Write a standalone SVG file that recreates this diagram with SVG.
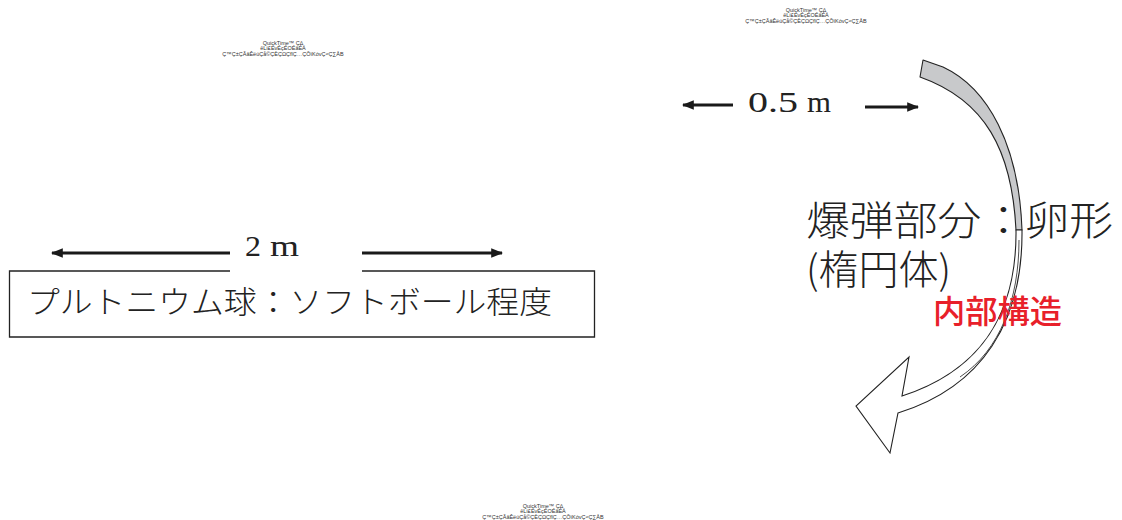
<svg xmlns="http://www.w3.org/2000/svg" width="1122" height="520" viewBox="0 0 1122 520">
<style>
.qt{font-family:"Liberation Sans",Arial,sans-serif;font-size:5.5px;fill:#333;text-anchor:middle}
.dim{font-family:"Liberation Serif","Times New Roman",serif;font-size:30px;fill:#222}
.jp{font-family:"Noto Sans CJK JP",sans-serif;font-weight:300;fill:#222}
.red{font-family:"Noto Sans CJK JP",sans-serif;font-weight:500;fill:#e8202a;font-size:32px}
.ln{stroke:#1a1a1a;stroke-width:3;fill:none}
</style>
<defs>
<marker id="ah" viewBox="0 0 10 10" refX="9" refY="5" markerWidth="4" markerHeight="4" orient="auto" markerUnits="strokeWidth">
<path d="M0,1 L10,5 L0,9 Z" fill="#1a1a1a"/>
</marker>
</defs>
<rect width="1122" height="520" fill="#fff"/>

<g id="qt1">
<text class="qt" x="283" y="45">QuickTime™ Ç∆</text>
<text class="qt" x="283" y="50">êLí£ÉvÉçÉOÉâÉÄ</text>
<text class="qt" x="283" y="56">Ç™Ç±ÇÃâÊëúÇå©ÇÈÇΩÇflÇ…ÇÕïKóvÇ≈Ç∑ÅB</text>
</g>
<g id="qt2">
<text class="qt" x="806" y="12">QuickTime™ Ç∆</text>
<text class="qt" x="806" y="17">êLí£ÉvÉçÉOÉâÉÄ</text>
<text class="qt" x="806" y="23">Ç™Ç±ÇÃâÊëúÇå©ÇÈÇΩÇflÇ…ÇÕïKóvÇ≈Ç∑ÅB</text>
</g>
<g id="qt3">
<text class="qt" x="543" y="508">QuickTime™ Ç∆</text>
<text class="qt" x="543" y="513">êLí£ÉvÉçÉOÉâÉÄ</text>
<text class="qt" x="543" y="519">Ç™Ç±ÇÃâÊëúÇå©ÇÈÇΩÇflÇ…ÇÕïKóvÇ≈Ç∑ÅB</text>
</g>

<g id="plutonium">
<path d="M230,271 L9.5,271 L9.5,337 L594.5,337 L594.5,271 L362,271" fill="none" stroke="#222" stroke-width="1.3"/>
<text class="jp" x="27" y="313" font-size="31" textLength="525" lengthAdjust="spacingAndGlyphs">プルトニウム球：ソフトボール程度</text>
</g>

<g id="dim2m">
<text class="dim" y="256"><tspan x="245" textLength="16" lengthAdjust="spacingAndGlyphs">2</tspan> <tspan x="270" textLength="29" lengthAdjust="spacingAndGlyphs">m</tspan></text>
</g>
<g id="dim05m">
<text class="dim" y="112"><tspan x="748" textLength="50" lengthAdjust="spacingAndGlyphs">0.5</tspan> <tspan x="807" textLength="24" lengthAdjust="spacingAndGlyphs">m</tspan></text>
</g>

<g id="bomb">
<text class="jp" font-size="40"><tspan x="806" y="235" textLength="307" lengthAdjust="spacingAndGlyphs">爆弾部分：卵形</tspan><tspan x="806" y="284">(楕円体)</tspan></text>
</g>

<g id="curved-arrow">
<path d="M923,60 L943,67 C988,88 1019,145 1022,230 L1016,230 C1012,150 985,100 920,77 Z" fill="#c8c9cb" stroke="#222" stroke-width="1.1" stroke-linejoin="round"/>
<path d="M1022,230 C1023,322 982,387 898,413 L890,453 L856,406 L909,357 L902,396 C976,372 1017,320 1016,230 Z" fill="#fff" stroke="#222" stroke-width="1.1" stroke-linejoin="miter"/>
<path d="M1019,240 C1019,300 1000,350 960,377" fill="none" stroke="#222" stroke-width="0.8"/>
</g>

<g id="internal">
<text class="red" x="933" y="323" textLength="129" lengthAdjust="spacingAndGlyphs">内部構造</text>
</g>

<g id="connectors">
<line class="ln" x1="230" y1="253" x2="52" y2="253" marker-end="url(#ah)"/>
<line class="ln" x1="362" y1="253" x2="502" y2="253" marker-end="url(#ah)"/>
<line class="ln" x1="733" y1="105" x2="683" y2="105" marker-end="url(#ah)"/>
<line class="ln" x1="865" y1="107" x2="918" y2="107" marker-end="url(#ah)"/>
</g>
</svg>
